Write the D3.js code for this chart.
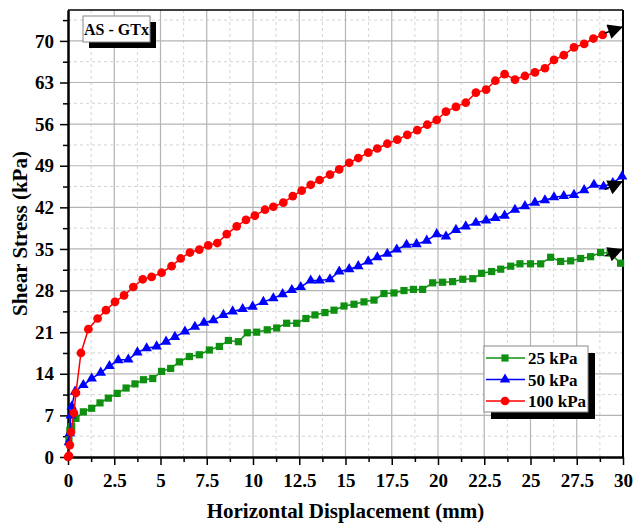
<!DOCTYPE html>
<html><head><meta charset="utf-8">
<script src="https://cdn.jsdelivr.net/npm/d3@7"></script>
<style>body{margin:0;background:#fff}svg{display:block}</style>
</head><body>
<script>
const xTicks = [0,2.5,5,7.5,10,12.5,15,17.5,20,22.5,25,27.5,30];
const xTickLabels = ["0","2.5","5","7.5","10","12.5","15","17.5","20","22.5","25","27.5","30"];
const yTicks = [0,7,14,21,28,35,42,49,56,63,70];

const seriesNames = ["25 kPa","50 kPa","100 kPa"];
const seriesColors = ["#109010","#0000ff","#ff0000"];

const greenX = [0.05,0.1,0.2,0.43,0.83,1.28,1.73,2.18,2.66,3.14,3.62,4.08,4.58,5.06,5.55,6.02,6.56,7.1,7.64,8.18,8.67,9.21,9.69,10.2,10.77,11.28,11.82,12.36,12.86,13.35,13.89,14.38,14.92,15.46,16.0,16.54,17.08,17.62,18.16,18.67,19.17,19.71,20.25,20.79,21.34,21.88,22.36,22.9,23.39,23.93,24.43,25.0,25.55,26.09,26.63,27.17,27.71,28.25,28.79,29.3,29.87];
const greenY = [3.0,4.5,5.1,6.5,7.6,8.2,9.1,9.9,10.7,11.6,12.3,13.0,13.2,14.4,14.9,16.0,16.9,17.2,18.0,18.6,19.6,19.4,20.9,21.0,21.4,21.7,22.5,22.5,23.3,23.9,24.3,24.7,25.4,25.7,26.1,26.4,27.5,27.6,28.0,28.2,28.2,29.3,29.4,29.5,29.9,30.0,30.9,31.2,31.6,32.1,32.5,32.5,32.5,33.6,32.9,33.0,33.4,33.7,34.4,34.3,32.6];

const blueX = [0.05,0.1,0.15,0.2,0.38,0.83,1.28,1.77,2.24,2.72,3.26,3.75,4.25,4.79,5.3,5.78,6.32,6.86,7.35,7.86,8.4,8.9,9.44,9.98,10.56,11.1,11.6,12.1,12.58,13.12,13.6,14.16,14.66,15.2,15.69,16.23,16.72,17.26,17.77,18.3,18.84,19.39,19.93,20.43,20.97,21.5,22.05,22.6,23.1,23.6,24.16,24.7,25.24,25.78,26.27,26.8,27.35,27.9,28.43,28.95,29.45,29.95];
const blueY = [2.5,4,7,8.5,11.0,12.1,13.2,14.2,15.3,16.3,16.4,17.6,18.3,18.6,19.4,20.2,21.1,21.9,22.6,23.0,23.9,24.5,24.9,25.3,26.1,26.7,27.4,28.1,28.6,29.7,29.7,29.9,31.2,31.6,32.1,32.9,33.6,34.2,34.9,35.7,35.8,36.4,37.5,37.1,38.2,38.8,39.4,39.8,40.2,40.6,41.6,42.2,42.8,43.2,43.7,43.9,44.1,44.9,45.8,45.5,46.1,47.2];

const redX = [0,0.05,0.1,0.16,0.32,0.43,0.7,1.1,1.6,2.05,2.54,3.03,3.53,4.04,4.52,5.06,5.6,6.09,6.59,7.1,7.58,8.07,8.58,9.12,9.62,10.1,10.65,11.1,11.64,12.15,12.63,13.12,13.6,14.16,14.66,15.2,15.69,16.23,16.72,17.26,17.8,18.34,18.88,19.42,19.93,20.43,20.97,21.5,22.05,22.6,23.1,23.6,24.16,24.7,25.24,25.78,26.27,26.8,27.35,27.9,28.4,28.9];
const redY = [0,0.2,2,4.2,7.4,10.8,17.5,21.5,23.3,24.7,26.1,27.2,28.6,29.9,30.3,31.0,32.1,33.4,34.4,34.9,35.6,36.0,37.5,38.8,39.9,40.6,41.6,42.1,42.8,43.9,44.8,45.8,46.6,47.5,48.4,49.5,50.3,51.2,51.9,52.7,53.4,54.2,55.0,55.9,56.7,58.1,58.9,59.6,61.3,61.8,63.3,64.4,63.5,64.1,64.7,65.4,66.8,67.6,68.9,69.5,70.4,71.0];

// arrows: [x0,y0,x1,y1] in data units
const arrowsData = [[29.0,33.8,30,35.0],[29.0,45.0,30,46.4],[29.0,71.3,30,72.4]];

const W = 634, H = 523;
const M = {l:68, r:623, t:10, b:457};
const FONT = "'Liberation Serif','Times New Roman',serif";

const svg = d3.select("body").append("svg").attr("width",W).attr("height",H);
const x = d3.scaleLinear().domain([0,30]).range([M.l,M.r]);
const y = d3.scaleLinear().domain([0,75.2]).range([M.b,M.t]);

// minor grid
const xMinor = d3.range(1.25,30,2.5);
const yMinor = d3.range(3.5,75,7);
const g = svg.append("g");
g.selectAll(".xm").data(xMinor).join("line").attr("x1",d=>x(d)).attr("x2",d=>x(d)).attr("y1",M.t).attr("y2",M.b)
 .attr("stroke","#d4d4d4").attr("stroke-dasharray","3,3");
g.selectAll(".ym").data(yMinor).join("line").attr("y1",d=>y(d)).attr("y2",d=>y(d)).attr("x1",M.l).attr("x2",M.r)
 .attr("stroke","#d4d4d4").attr("stroke-dasharray","3,3");
g.selectAll(".xg").data(xTicks.slice(1,-1)).join("line").attr("x1",d=>x(d)).attr("x2",d=>x(d)).attr("y1",M.t).attr("y2",M.b)
 .attr("stroke","#b4b4b4").attr("stroke-width",1.2);
g.selectAll(".yg").data(yTicks.slice(1)).join("line").attr("y1",d=>y(d)).attr("y2",d=>y(d)).attr("x1",M.l).attr("x2",M.r)
 .attr("stroke","#b4b4b4").attr("stroke-width",1.2);

// axes
const xAxis = svg.append("g").attr("transform",`translate(0,${M.b})`)
  .call(d3.axisBottom(x).tickValues(xTicks).tickFormat((d,i)=>xTickLabels[i]).tickSize(8).tickPadding(9).tickSizeOuter(0));
const yAxis = svg.append("g").attr("transform",`translate(${M.l},0)`)
  .call(d3.axisLeft(y).tickValues(yTicks).tickSize(8).tickPadding(6).tickSizeOuter(0));
svg.append("g").attr("transform",`translate(0,${M.b})`).call(d3.axisBottom(x).tickValues(xMinor).tickSize(5).tickFormat("").tickSizeOuter(0));
svg.append("g").attr("transform",`translate(${M.l},0)`).call(d3.axisLeft(y).tickValues(yMinor).tickSize(5).tickFormat("").tickSizeOuter(0));
svg.selectAll(".domain").attr("stroke","#000").attr("stroke-width",2);
svg.selectAll(".tick line").attr("stroke","#000").attr("stroke-width",1.5);
svg.selectAll(".tick text").attr("font-family",FONT).attr("font-weight","bold").attr("font-size",19).attr("fill","#000");
// top & right border
svg.append("line").attr("x1",M.l).attr("x2",M.r).attr("y1",M.t).attr("y2",M.t).attr("stroke","#000").attr("stroke-width",1.5);
svg.append("line").attr("x1",M.r).attr("x2",M.r).attr("y1",M.t).attr("y2",M.b).attr("stroke","#000").attr("stroke-width",2);

// series
const series = [
  {name:seriesNames[0], color:seriesColors[0], xs:greenX, ys:greenY, sym:d3.symbolSquare, size:52},
  {name:seriesNames[1], color:seriesColors[1], xs:blueX, ys:blueY, sym:d3.symbolTriangle, size:48},
  {name:seriesNames[2], color:seriesColors[2], xs:redX, ys:redY, sym:d3.symbolCircle, size:60}
];
const line = d3.line().x(d=>x(d[0])).y(d=>y(d[1]));
series.forEach(s=>{
  const pts = s.xs.map((v,i)=>[v,s.ys[i]]);
  svg.append("path").datum(pts).attr("d",line).attr("fill","none").attr("stroke",s.color).attr("stroke-width",1.5);
  svg.append("g").selectAll("path").data(pts).join("path")
    .attr("transform",d=>`translate(${x(d[0])},${y(d[1])})`)
    .attr("d",d3.symbol(s.sym,s.size)).attr("fill",s.color);
});

// arrows
svg.append("defs").append("marker").attr("id","ah").attr("viewBox","0 0 10 10").attr("refX",10).attr("refY",5)
  .attr("markerWidth",18).attr("markerHeight",15).attr("markerUnits","userSpaceOnUse").attr("orient","auto")
  .append("path").attr("d","M0,0L10,5L0,10z").attr("fill","#000");
svg.selectAll(".arr").data(arrowsData).join("line")
  .attr("x1",d=>x(d[0])).attr("y1",d=>y(d[1])).attr("x2",d=>x(d[2])).attr("y2",d=>y(d[3]))
  .attr("stroke","#000").attr("stroke-width",1.5).attr("marker-end","url(#ah)");

// AS - GTx label box
const lb = svg.append("g");
lb.append("rect").attr("x",89).attr("y",22).attr("width",67).attr("height",26).attr("fill","#000");
lb.append("rect").attr("x",83).attr("y",16).attr("width",67).attr("height",26).attr("fill","#fff").attr("stroke","#888").attr("stroke-width",1);
lb.append("text").attr("x",116.5).attr("y",35).attr("text-anchor","middle").attr("font-family",FONT)
  .attr("font-weight","bold").attr("font-size",16).text("AS - GTx");

// legend
const lg = svg.append("g");
lg.append("rect").attr("x",491).attr("y",353).attr("width",104).attr("height",66).attr("fill","#000");
lg.append("rect").attr("x",484).attr("y",346).attr("width",104).attr("height",66).attr("fill","#fff").attr("stroke","#888").attr("stroke-width",1);
series.forEach((s,i)=>{
  const yy = 358 + i*21.5;
  lg.append("line").attr("x1",486).attr("x2",525).attr("y1",yy).attr("y2",yy).attr("stroke",s.color).attr("stroke-width",1.5);
  lg.append("path").attr("transform",`translate(505,${yy})`).attr("d",d3.symbol(s.sym,s.size)).attr("fill",s.color);
  lg.append("text").attr("x",528).attr("y",yy+6).attr("font-family",FONT).attr("font-weight","bold").attr("font-size",17).text(s.name);
});

// axis titles
svg.append("text").attr("transform",`translate(27,${(M.t+M.b)/2}) rotate(-90)`).attr("text-anchor","middle")
  .attr("font-family",FONT).attr("font-weight","bold").attr("font-size",21).text("Shear Stress (kPa)");
svg.append("text").attr("x",(M.l+M.r)/2).attr("y",518).attr("text-anchor","middle")
  .attr("font-family",FONT).attr("font-weight","bold").attr("font-size",21).text("Horizontal Displacement (mm)");
</script>
</body></html>
